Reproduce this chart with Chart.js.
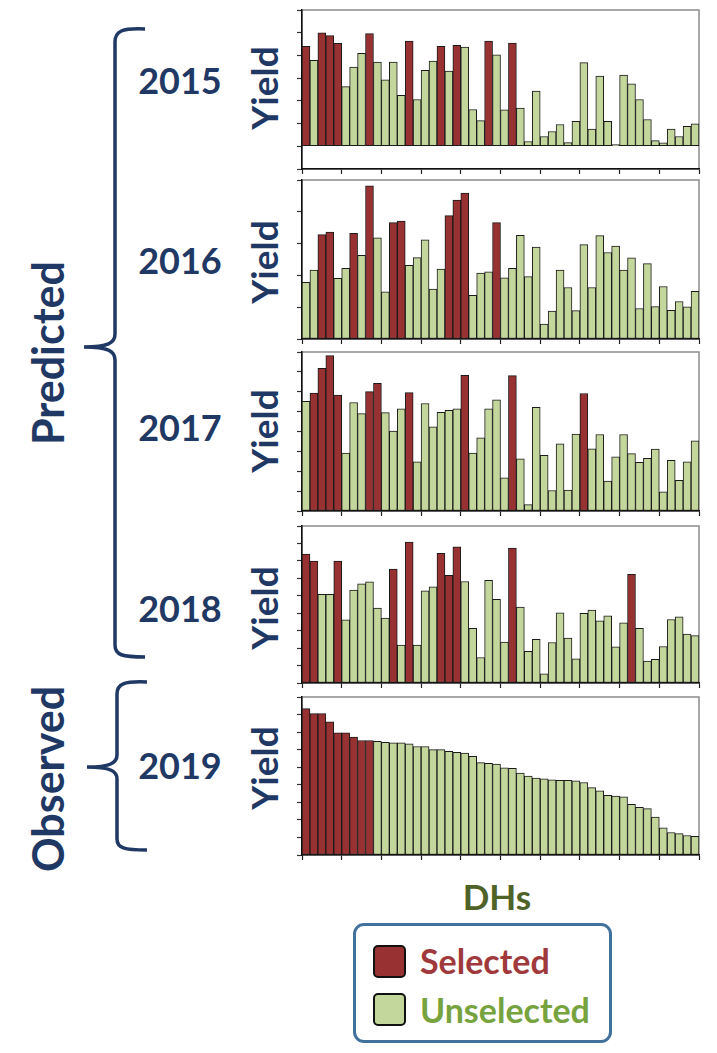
<!DOCTYPE html>
<html lang="en">
<head>
<meta charset="UTF-8">
<title>Predicted and observed yield of DHs</title>
<script src="https://cdn.jsdelivr.net/npm/chart.js"></script>
<style>
  body { margin: 0; background: #fff; }
  #page { position: relative; width: 717px; height: 1053px; overflow: hidden;
          font-family: Lato, "Open Sans", sans-serif; font-weight: 700; color: #1f3864; }
  canvas { position: absolute; }
  .lbl { position: absolute; white-space: nowrap; line-height: 1; transform: translate(-50%, -50%); }
  .rot { transform: translate(-50%, -50%) rotate(-90deg); }
  .group { font-size: 43px; }
  .year { font-size: 36px; }
  .yield { font-size: 37px; }
  #dhs { font-size: 35px; color: #4f6228; }
  #legend { position: absolute; left: 353px; top: 923px; width: 253px; height: 114px;
            border: 3px solid #41719c; border-radius: 11px; }
  .sw { position: absolute; left: 17px; width: 29px; height: 29px; border: 2px solid #111; border-radius: 5px; }
  .lt { position: absolute; left: 64px; font-size: 34px; line-height: 1; }
  svg { position: absolute; left: 0; top: 0; }
</style>
</head>
<body>
<div id="page">
  <svg width="717" height="1053">
    <path d="M145 29 C122 28 115 31 115 42 L115 334 C115 343 108 347 84 347 C108 347 115 351 115 360 L115 645 C115 655 122 657 145 657"
          fill="none" stroke="#1f3864" stroke-width="3.5"/>
    <path d="M147 682 C124 681 117 684 117 694 L117 755 C117 763 110 767 87 767 C110 767 117 771 117 779 L117 839 C117 848 124 850 147 850"
          fill="none" stroke="#1f3864" stroke-width="3.5"/>
  </svg>

  <div class="lbl rot group" style="left:47px; top:353px;">Predicted</div>
  <div class="lbl rot group" style="left:47px; top:779px;">Observed</div>

  <div class="lbl year" style="left:180px; top:80px;">2015</div>
  <div class="lbl year" style="left:180px; top:260px;">2016</div>
  <div class="lbl year" style="left:180px; top:427px;">2017</div>
  <div class="lbl year" style="left:180px; top:608px;">2018</div>
  <div class="lbl year" style="left:180px; top:765px;">2019</div>

  <div class="lbl rot yield" style="left:263px; top:88px;">Yield</div>
  <div class="lbl rot yield" style="left:263px; top:262px;">Yield</div>
  <div class="lbl rot yield" style="left:263px; top:431px;">Yield</div>
  <div class="lbl rot yield" style="left:263px; top:608px;">Yield</div>
  <div class="lbl rot yield" style="left:263px; top:768px;">Yield</div>

  <canvas id="c2015"></canvas>
  <canvas id="c2016"></canvas>
  <canvas id="c2017"></canvas>
  <canvas id="c2018"></canvas>
  <canvas id="c2019"></canvas>

  <div id="dhs" class="lbl" style="left:497px; top:896px;">DHs</div>

  <div id="legend">
    <div class="sw" style="top:19px; background:#983232;"></div>
    <div class="lt" style="top:18px; color:#a0393b;">Selected</div>
    <div class="sw" style="top:67px; background:#c3d69b;"></div>
    <div class="lt" style="top:67px; color:#77a33f;">Unselected</div>
  </div>
</div>

<script>
// 50 doubled-haploid lines, same order in every panel
const dhs = Array.from({ length: 50 }, (_, i) => 'DH' + (i + 1));

const yield2015 = [4.40, 3.78, 5.00, 4.87, 4.53, 2.63, 3.49, 4.09, 4.96, 3.71,
                   2.93, 3.71, 2.24, 4.63, 2.06, 3.34, 3.75, 4.40, 3.31, 4.44,
                   4.37, 1.62, 1.13, 4.63, 4.03, 1.60, 4.54, 1.68, 0.21, 2.43,
                   0.43, 0.65, 0.96, 0.16, 1.10, 3.68, 0.76, 3.09, 1.10, 0.07,
                   3.13, 2.75, 2.06, 1.18, 0.25, 0.15, 0.76, 0.43, 0.88, 0.99];
const selected2015 = [1, 3, 4, 5, 9, 14, 18, 20, 24, 27];

const yield2016 = [1.78, 2.17, 3.28, 3.36, 1.91, 2.22, 3.32, 2.63, 4.82, 3.18,
                   1.48, 3.66, 3.71, 2.32, 2.56, 3.12, 1.57, 2.20, 3.88, 4.37,
                   4.59, 1.37, 2.07, 2.11, 3.66, 1.92, 2.22, 3.26, 1.96, 2.89,
                   0.47, 0.88, 2.17, 1.62, 0.89, 2.97, 1.62, 3.25, 2.72, 2.92,
                   2.17, 2.55, 0.96, 2.37, 1.02, 1.65, 0.90, 1.18, 1.01, 1.50];
const selected2016 = [3, 4, 7, 9, 12, 13, 19, 20, 21, 25];

const yield2017 = [5.52, 5.93, 7.18, 7.82, 5.83, 2.91, 5.46, 4.90, 6.01, 6.42,
                   4.95, 4.02, 5.14, 5.96, 2.48, 5.41, 4.24, 4.97, 5.07, 5.14,
                   6.82, 2.92, 3.68, 5.14, 5.59, 1.67, 6.81, 2.62, 0.32, 5.22,
                   2.80, 1.03, 3.38, 1.05, 3.87, 5.91, 3.13, 3.85, 1.50, 2.72,
                   3.85, 2.89, 2.45, 2.65, 3.11, 0.96, 2.55, 1.54, 2.48, 3.53];
const selected2017 = [2, 3, 4, 5, 9, 10, 14, 21, 27, 36];

const yield2018 = [7.39, 6.99, 5.08, 5.08, 6.99, 3.62, 5.33, 5.69, 5.80, 4.29,
                   3.72, 6.53, 2.18, 8.08, 2.18, 5.29, 5.52, 7.43, 6.17, 7.80,
                   5.82, 3.14, 1.46, 5.88, 4.79, 2.34, 7.74, 4.35, 1.82, 2.51,
                   0.52, 2.32, 4.02, 2.57, 1.38, 4.00, 4.18, 3.56, 3.85, 2.07,
                   3.45, 6.23, 3.14, 1.26, 1.36, 2.09, 3.64, 3.79, 2.80, 2.72];
const selected2018 = [1, 2, 5, 12, 14, 18, 19, 20, 27, 42];

const yield2019 = [8.34, 8.05, 8.05, 7.59, 6.96, 6.96, 6.71, 6.52, 6.52, 6.48,
                   6.42, 6.39, 6.39, 6.33, 6.18, 6.18, 6.00, 6.00, 5.91, 5.85,
                   5.81, 5.62, 5.26, 5.22, 5.18, 4.97, 4.93, 4.67, 4.49, 4.38,
                   4.34, 4.28, 4.26, 4.26, 4.23, 4.13, 3.84, 3.65, 3.40, 3.35,
                   3.31, 2.89, 2.72, 2.64, 2.16, 1.55, 1.28, 1.22, 1.11, 1.07];
const selected2019 = [1, 2, 3, 4, 5, 6, 7, 8, 9];

const RED = '#983232';
const GREEN = '#c3d69b';

// gray box round the plot area; left and bottom axes are drawn over it in black
const framePlugin = {
    id: 'frame',
    beforeDraw(chart) {
        const { ctx, chartArea: a } = chart;
        ctx.save();
        ctx.strokeStyle = '#8c8c8c';
        ctx.lineWidth = 1.5;
        ctx.strokeRect(a.left, a.top, a.right - a.left, a.bottom - a.top);
        ctx.restore();
    }
};

function makePanel(id, values, selected, yMin, yMax, top, bottom) {
    const canvas = document.getElementById(id);
    canvas.width = 405;
    canvas.height = bottom - top + 8;
    canvas.style.left = '296px';
    canvas.style.top = (top - 2) + 'px';

    new Chart(canvas, {
        type: 'bar',
        data: {
            labels: dhs,
            datasets: [{
                data: values,
                backgroundColor: values.map((v, i) => selected.includes(i + 1) ? RED : GREEN),
                borderColor: '#1a1a1a',
                borderWidth: 1,
                borderSkipped: false,
                categoryPercentage: 1,
                barPercentage: 1
            }]
        },
        options: {
            responsive: false,
            animation: false,
            devicePixelRatio: 1,
            layout: { padding: { top: 2, right: 2, left: 0, bottom: 0 } },
            plugins: { legend: { display: false }, tooltip: { enabled: false } },
            scales: {
                x: {
                    ticks: { display: false, autoSkip: false },
                    grid: {
                        drawOnChartArea: false,
                        offset: true,
                        tickLength: 5,
                        tickWidth: 1.2,
                        tickColor: c => (c.index === undefined || c.index % 5 === 0) ? '#222' : 'rgba(0,0,0,0)'
                    },
                    border: { color: '#111', width: 1.5 },
                    afterFit: s => { s.height = 6; }
                },
                y: {
                    min: yMin,
                    max: yMax,
                    ticks: { display: false, stepSize: 1 },
                    grid: { drawOnChartArea: false, tickLength: 5, tickWidth: 1.2, tickColor: '#333' },
                    border: { color: '#111', width: 1.5 },
                    afterFit: s => { s.width = 6; }
                }
            }
        },
        plugins: [framePlugin]
    });
}

makePanel('c2015', yield2015, selected2015, -1, 6, 10, 169);
makePanel('c2016', yield2016, selected2016, 0, 5, 180, 339);
makePanel('c2017', yield2017, selected2017, 0, 8, 352, 511);
makePanel('c2018', yield2018, selected2018, 0, 9, 526, 683);
makePanel('c2019', yield2019, selected2019, 0, 9, 697, 855);
</script>
</body>
</html>
